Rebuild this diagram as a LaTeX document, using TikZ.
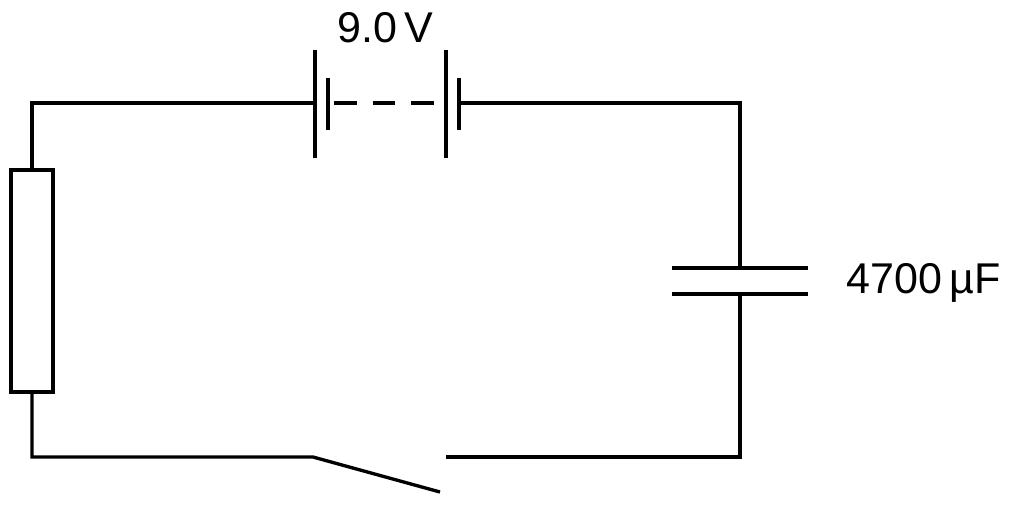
\documentclass[tikz,border=0pt]{standalone}
\usepackage{fontspec}
\setmainfont{Liberation Sans}
\usetikzlibrary{positioning}
\begin{document}
\begin{tikzpicture}
    [x=0.02cm, y=-0.02cm,
    wire/.style = {line width=1.9pt},
    label/.style = {font=\fontsize{24.5}{28}\selectfont, inner sep=0pt}]

    \useasboundingbox (0,0) rectangle (1017,505);

    % corners
    \coordinate (TL) at (32,103);
    \coordinate (TR) at (740,103);
    \coordinate (BL) at (32,457);
    \coordinate (BR) at (740,457);

    % battery
    \coordinate (B1) at (315,103);
    \coordinate (B2) at (459,103);
    \draw [wire] (315,50) -- (315,158);
    \draw [wire] (328,78) -- (328,130);
    \draw [wire] (446,50) -- (446,158);
    \draw [wire] (459,78) -- (459,130);
    \draw [wire, dash pattern=on 13pt off 9pt] (334,103) -- (446,103);
    \node [label] (volt) at (385,28) {9.0\,V};

    % resistor
    \node [draw, wire, minimum width=0.84cm, minimum height=4.44cm, inner sep=0pt] (R) at (32,281) {};

    % capacitor
    \coordinate (C1) at (740,268);
    \coordinate (C2) at (740,294);
    \draw [wire] (672,268) -- (808,268);
    \draw [wire] (672,294) -- (808,294);
    \node [label, anchor=west] (cap) at (846,283) {4700\,µF};

    % switch
    \coordinate (S1) at (313,457);
    \coordinate (S2) at (446,457);
    \coordinate (S3) at (440,492);

    \draw [wire] (R.north) -- (TL) -- (B1);
    \draw [wire] (B2) -- (TR) -- (C1);
    \draw [wire] (C2) -- (BR) -- (S2);
    \draw [wire] (R.south) -- (BL) -- (S1) -- (S3);
\end{tikzpicture}
\end{document}
